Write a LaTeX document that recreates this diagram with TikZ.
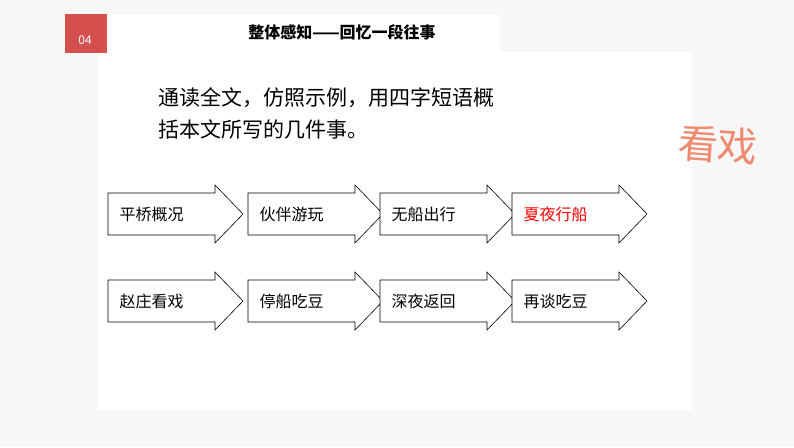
\documentclass[tikz,border=0pt]{standalone}
\usepackage{fontspec}
\setmainfont{Noto Sans CJK SC}
\definecolor{bg}{HTML}{F7F7F8}
\definecolor{rd}{HTML}{D64F4F}
\definecolor{sal}{HTML}{EE8A6E}
\tikzset{arrline/.style={draw=black,line width=0.6pt,fill=white,line join=miter},
lab/.style={anchor=west,font=\fontsize{16}{16}\selectfont}}
\begin{document}
\begin{tikzpicture}[x=1pt,y=-1pt]
\fill[bg] (0,0) rectangle (794,447);
\useasboundingbox (0,0) rectangle (794,447);
\fill[white] (98,52) rectangle (692,410);
\fill[white] (100,15) rectangle (500,52);
\fill[rd] (65,14) rectangle (107,53);
\node[white,font=\fontsize{12}{12}\selectfont] (num) at (85,40) {04};
\node[font=\bfseries\fontsize{16}{16}\selectfont] (title) at (342,32) {整体感知——回忆一段往事};
\node[anchor=north west,align=left,font=\fontsize{21}{32}\selectfont] (q) at (155,84) {通读全文，仿照示例，用四字短语概\\括本文所写的几件事。};
\node[sal,font=\fontsize{40}{40}\selectfont,rotate=-4] (kx) at (718,145) {看戏};
\foreach \n/\x/\y/\t/\c in {a/108/214/平桥概况/black,b/248/214/伙伴游玩/black,c/380/214/无船出行/black,d/512/214/夏夜行船/red,
e/108/301/赵庄看戏/black,f/248/301/停船吃豆/black,g/380/301/深夜返回/black,h/512/301/再谈吃豆/black}{
\draw[arrline] (\x,\y-21) -- ++(107,0) -- ++(0,-8) -- (\x+135,\y) -- (\x+107,\y+29) -- ++(0,-8) -- (\x,\y+21) -- cycle;
\node[lab,text=\c] (\n) at (\x+8,\y) {\t};
}
\end{tikzpicture}
\end{document}
